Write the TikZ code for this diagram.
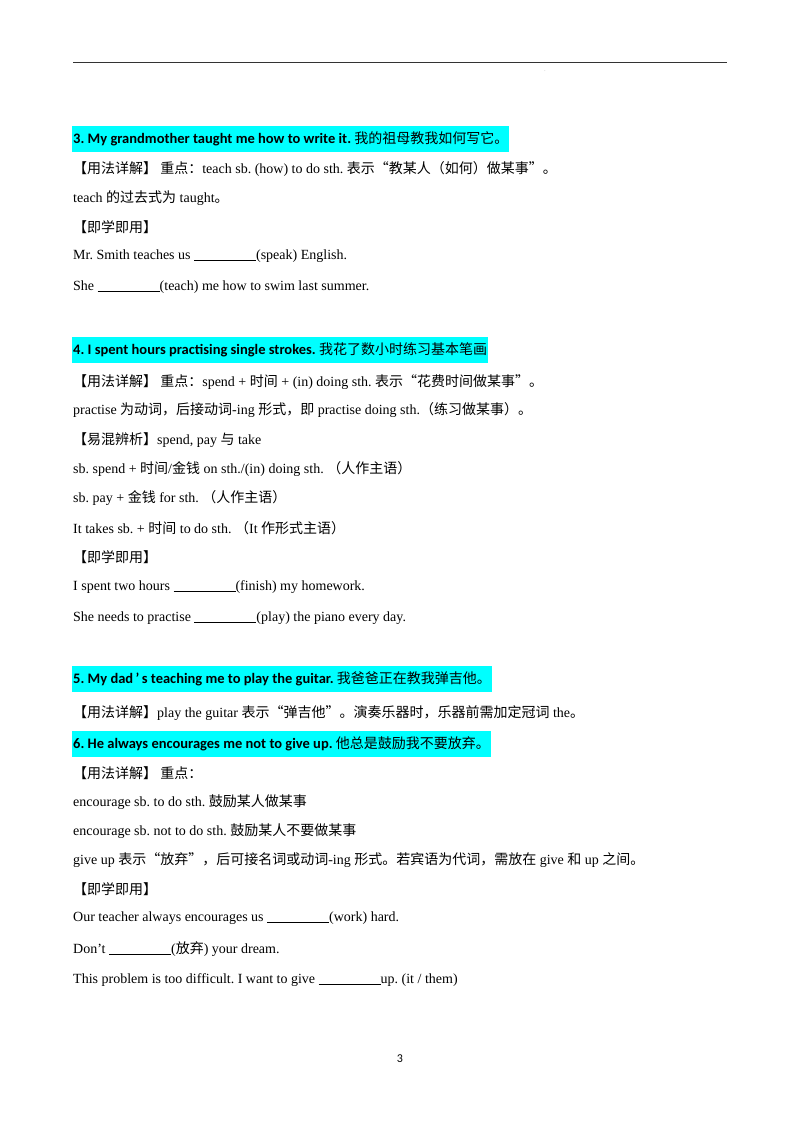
\documentclass[tikz,border=0pt]{standalone}
\usepackage{fontspec}
\setmainfont{Liberation Serif}
\newfontfamily\cjk{Noto Sans CJK SC}
\newfontfamily\hd{Carlito}
\definecolor{hl}{RGB}{0,255,255}
\newcommand\zh[1]{{\cjk\mdseries\fontsize{14}{15}\selectfont #1}}
\newcommand\blank{\rule[-1.5pt]{62pt}{0.9pt}}
\frenchspacing
\begin{document}
\frenchspacing
\begin{tikzpicture}[x=1pt,y=-1pt,
  txt/.style={anchor=west,inner sep=0pt,font=\fontsize{14}{16}\selectfont},
  head/.style={anchor=west,inner xsep=1pt,inner ysep=6pt,fill=hl,font=\hd\bfseries\fontsize{14.5}{16}\selectfont}]
\useasboundingbox (0,0) rectangle (800,1132);
\draw[line width=0.9pt,black!80] (73,62) coordinate (l1) -- (727,62) coordinate (l2);
\node[inner sep=0pt,font=\tiny,gray] (dot) at (545,71) {.};
\node[head] (h3) at (72,139) {3. My grandmother taught me how to write it.\ \zh{我的祖母教我如何写它。}};
\node[txt] (a1) at (73,169) {\zh{【用法详解】\ 重点：}teach sb. (how) to do sth. \zh{表示“教某人（如何）做某事”。}};
\node[txt] (a2) at (73,198) {teach \zh{的过去式为} taught\zh{。}};
\node[txt] (a3) at (73,227) {\zh{【即学即用】}};
\node[txt] (a4) at (73,256) {Mr. Smith teaches us \blank(speak) English.};
\node[txt] (a5) at (73,287) {She \blank(teach) me how to swim last summer.};
\node[head] (h4) at (72,350) {4. I spent hours practising single strokes.\ \zh{我花了数小时练习基本笔画}};
\node[txt] (b1) at (73,382) {\zh{【用法详解】\ 重点：}spend + \zh{时间} + (in) doing sth. \zh{表示“花费时间做某事”。}};
\node[txt] (b2) at (73,410) {practise \zh{为动词，后接动词}-ing \zh{形式，即} practise doing sth.\zh{（练习做某事）。}};
\node[txt] (b3) at (73,440) {\zh{【易混辨析】}spend, pay \zh{与} take};
\node[txt] (b4) at (73,469) {sb. spend + \zh{时间}/\zh{金钱} on sth./(in) doing sth. \zh{（人作主语）}};
\node[txt] (b5) at (73,498) {sb. pay + \zh{金钱} for sth. \zh{（人作主语）}};
\node[txt] (b6) at (73,528) {It takes sb. + \zh{时间} to do sth. \zh{（}It \zh{作形式主语）}};
\node[txt] (b7) at (73,557) {\zh{【即学即用】}};
\node[txt] (b8) at (73,587) {I spent two hours \blank(finish) my homework.};
\node[txt] (b9) at (73,618) {She needs to practise \blank(play) the piano every day.};
\node[head] (h5) at (72,679) {5. My dad\,’\,s teaching me to play the guitar.\ \zh{我爸爸正在教我弹吉他。}};
\node[txt] (c1) at (73,713) {\zh{【用法详解】}play the guitar \zh{表示“弹吉他”。演奏乐器时，乐器前需加定冠词} the\zh{。}};
\node[head] (h6) at (72,744) {6. He always encourages me not to give up.\ \zh{他总是鼓励我不要放弃。}};
\node[txt] (d1) at (73,773) {\zh{【用法详解】\ 重点：}};
\node[txt] (d2) at (73,802) {encourage sb. to do sth. \zh{鼓励某人做某事}};
\node[txt] (d3) at (73,831) {encourage sb. not to do sth. \zh{鼓励某人不要做某事}};
\node[txt] (d4) at (73,860) {give up \zh{表示“放弃”，后可接名词或动词}-ing \zh{形式。若宾语为代词，需放在} give \zh{和} up \zh{之间。}};
\node[txt] (d5) at (73,889) {\zh{【即学即用】}};
\node[txt] (d6) at (73,918) {Our teacher always encourages us \blank(work) hard.};
\node[txt] (d7) at (73,949) {Don't \blank(\zh{放弃}) your dream.};
\node[txt] (d8) at (73,980) {This problem is too difficult. I want to give \blank up. (it / them)};
\node[inner sep=0pt,font=\hd\fontsize{12}{13}\selectfont] (pg) at (400,1059) {3};
\end{tikzpicture}
\end{document}
